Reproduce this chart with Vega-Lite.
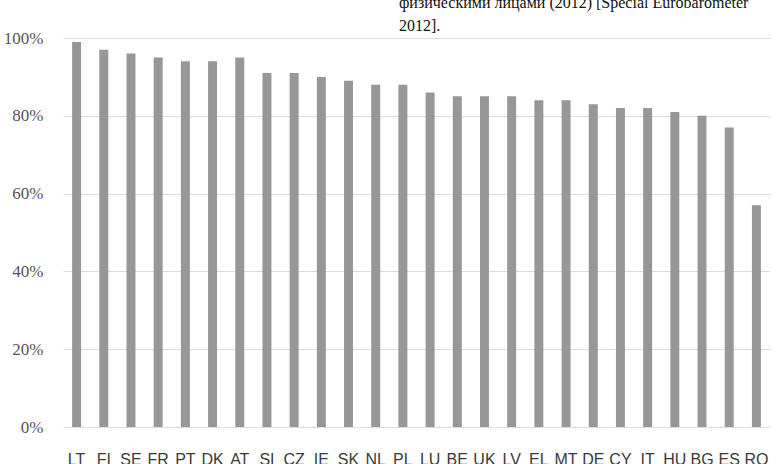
{
  "$schema": "https://vega.github.io/schema/vega-lite/v6.json",
  "width": 707,
  "height": 389,
  "autosize": {"type": "none"},
  "padding": {"left": 63, "top": 38, "right": 6, "bottom": 37},
  "background": "white",
  "title": {
    "text": ["физическими лицами (2012) [Special Eurobarometer", "2012]."],
    "anchor": "start",
    "frame": "group",
    "orient": "top",
    "dx": 336,
    "dy": 9,
    "offset": 4,
    "font": "Liberation Serif",
    "fontSize": 16,
    "fontWeight": "normal",
    "fontStyle": "normal",
    "color": "#111111",
    "lineHeight": 23
  },
  "data": {
    "values": [
      {"country": "LT", "value": 0.99},
      {"country": "FI", "value": 0.97},
      {"country": "SE", "value": 0.96},
      {"country": "FR", "value": 0.95},
      {"country": "PT", "value": 0.94},
      {"country": "DK", "value": 0.94},
      {"country": "AT", "value": 0.95},
      {"country": "SI", "value": 0.91},
      {"country": "CZ", "value": 0.91},
      {"country": "IE", "value": 0.90},
      {"country": "SK", "value": 0.89},
      {"country": "NL", "value": 0.88},
      {"country": "PL", "value": 0.88},
      {"country": "LU", "value": 0.86},
      {"country": "BE", "value": 0.85},
      {"country": "UK", "value": 0.85},
      {"country": "LV", "value": 0.85},
      {"country": "EL", "value": 0.84},
      {"country": "MT", "value": 0.84},
      {"country": "DE", "value": 0.83},
      {"country": "CY", "value": 0.82},
      {"country": "IT", "value": 0.82},
      {"country": "HU", "value": 0.81},
      {"country": "BG", "value": 0.80},
      {"country": "ES", "value": 0.77},
      {"country": "RO", "value": 0.57}
    ]
  },
  "mark": {"type": "bar", "color": "#979797"},
  "encoding": {
    "x": {
      "field": "country",
      "type": "nominal",
      "sort": null,
      "scale": {"paddingInner": 0.67, "paddingOuter": 0.335},
      "axis": {
        "title": null,
        "labelAngle": 0,
        "ticks": false,
        "domain": false,
        "labelPadding": 24,
        "labelFont": "Liberation Sans",
        "labelFontSize": 16,
        "labelColor": "#3a3a3a"
      }
    },
    "y": {
      "field": "value",
      "type": "quantitative",
      "scale": {"domain": [0, 1], "nice": false},
      "axis": {
        "title": null,
        "values": [0, 0.2, 0.4, 0.6, 0.8, 1],
        "format": ".0%",
        "ticks": false,
        "domain": false,
        "grid": true,
        "gridColor": "#dcdcdc",
        "gridWidth": 1.2,
        "labelPadding": 20,
        "labelFont": "Liberation Serif",
        "labelFontSize": 17,
        "labelColor": "#555555"
      }
    }
  },
  "config": {"view": {"stroke": null}}
}
